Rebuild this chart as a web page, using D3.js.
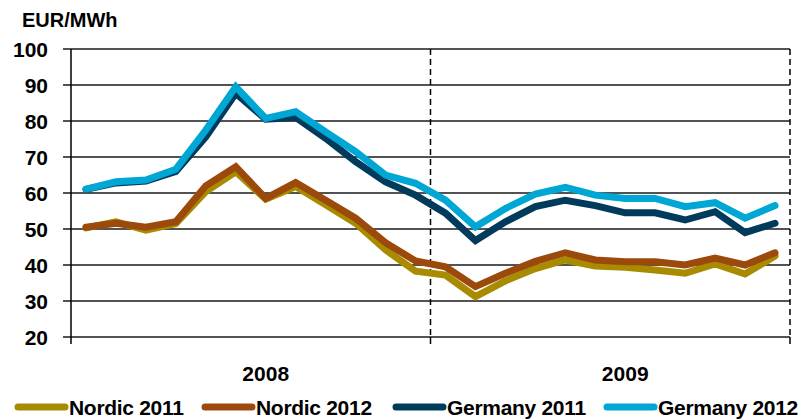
<!DOCTYPE html>
<html>
<head>
<meta charset="utf-8">
<script src="https://cdn.jsdelivr.net/npm/d3@7"></script>
<style>
  body { margin: 0; background: #fff; }
  text { font-family: "Liberation Sans", Arial, sans-serif; font-weight: bold; fill: #000; }
</style>
</head>
<body>
<div id="chart"></div>
<script>
// monthly values, Jan 2008 .. Dec 2009
var months = d3.range(24).map(function(i) { return (2008 + Math.floor(i / 12)) + "-" + (i % 12 + 1); });
var years = ["2008", "2009"];
var yTicks = [20, 30, 40, 50, 60, 70, 80, 90, 100];

var nordic2011  = [50.3, 52.0, 49.7, 51.5, 60.4, 65.9, 58.3, 61.8, 56.7, 51.6, 44.2, 38.3,
                   37.2, 31.2, 35.6, 39.0, 41.4, 39.7, 39.4, 38.6, 37.7, 40.3, 37.5, 42.5];
var nordic2012  = [50.5, 51.6, 50.5, 52.0, 62.0, 67.3, 58.5, 62.9, 58.0, 53.0, 46.2, 41.1,
                   39.5, 34.0, 37.7, 41.0, 43.4, 41.4, 40.9, 40.9, 40.0, 41.9, 40.0, 43.4];
var germany2011 = [61.0, 62.8, 63.3, 66.0, 75.6, 87.7, 80.5, 81.0, 75.2, 68.7, 63.1, 59.4,
                   54.4, 46.8, 52.0, 56.2, 58.0, 56.5, 54.5, 54.5, 52.5, 54.8, 49.0, 51.6];
var germany2012 = [61.1, 63.1, 63.6, 66.6, 77.5, 89.5, 80.7, 82.6, 77.0, 71.5, 65.0, 62.7,
                   58.0, 50.6, 55.7, 59.7, 61.6, 59.4, 58.5, 58.5, 56.2, 57.3, 53.0, 56.5];

var seriesNames = ["Nordic 2011", "Nordic 2012", "Germany 2011", "Germany 2012"];
var seriesData = [nordic2011, nordic2012, germany2011, germany2012];
var colors = ["#a88b00", "#9b4a0b", "#003b5c", "#00a6d4"];

var width = 810, height = 420;
var margin = {left: 71, right: 790, top: 49, bottom: 337};

var svg = d3.select("#chart")
    .append("svg")
      .attr("width", width)
      .attr("height", height);

var x = d3.scaleBand()
    .domain(months)
    .range([margin.left, margin.right])
    .padding(0);

var y = d3.scaleLinear()
    .domain([20, 100])
    .range([margin.bottom, margin.top]);

function cx(m) { return x(m) + x.bandwidth() / 2; }

// gridlines + y ticks
svg.append("g")
    .selectAll("line")
    .data(yTicks)
    .enter()
    .append("line")
      .attr("x1", margin.left - 8)
      .attr("x2", margin.right)
      .attr("y1", function(d) { return y(d); })
      .attr("y2", function(d) { return y(d); })
      .attr("stroke", "#1a1a1a")
      .attr("stroke-width", 1.5);

svg.append("g")
    .selectAll("text")
    .data(yTicks)
    .enter()
    .append("text")
      .attr("x", 48)
      .attr("y", function(d) { return y(d); })
      .attr("dy", "0.36em")
      .attr("text-anchor", "end")
      .style("font-size", "21px")
      .text(function(d) { return d; });

// y axis line
svg.append("line")
    .attr("x1", margin.left).attr("x2", margin.left)
    .attr("y1", margin.top).attr("y2", margin.bottom + 7)
    .attr("stroke", "#000")
    .attr("stroke-width", 1.5);

// year separators (dashed) and bottom ticks
var edges = [x(months[12]), margin.right];
svg.append("g")
    .selectAll("line")
    .data(edges)
    .enter()
    .append("line")
      .attr("x1", function(d) { return d; })
      .attr("x2", function(d) { return d; })
      .attr("y1", margin.top)
      .attr("y2", margin.bottom)
      .attr("stroke", "#000")
      .attr("stroke-width", 1.5)
      .attr("stroke-dasharray", "6,4");

svg.append("g")
    .selectAll("line")
    .data(edges)
    .enter()
    .append("line")
      .attr("x1", function(d) { return d; })
      .attr("x2", function(d) { return d; })
      .attr("y1", margin.bottom)
      .attr("y2", margin.bottom + 7)
      .attr("stroke", "#000")
      .attr("stroke-width", 1.5);

// year labels, centred on July
svg.append("g")
    .selectAll("text")
    .data(years)
    .enter()
    .append("text")
      .attr("x", function(d, i) { return cx(months[i * 12 + 6]); })
      .attr("y", 381)
      .attr("text-anchor", "middle")
      .style("font-size", "21px")
      .text(function(d) { return d; });

// unit label
svg.append("text")
    .attr("x", 22)
    .attr("y", 27)
    .style("font-size", "20px")
    .text("EUR/MWh");

// lines
var line = d3.line()
    .x(function(d, i) { return cx(months[i]); })
    .y(function(d) { return y(d); });

svg.append("g")
    .selectAll("path")
    .data(seriesData)
    .enter()
    .append("path")
      .attr("d", line)
      .attr("fill", "none")
      .attr("stroke", function(d, i) { return colors[i]; })
      .attr("stroke-width", 7)
      .attr("stroke-linejoin", "miter")
      .attr("stroke-linecap", "round");

// legend
var legendX = [18, 205, 396, 607];
var lg = svg.append("g")
    .selectAll("g")
    .data(seriesNames)
    .enter()
    .append("g")
      .attr("transform", function(d, i) { return "translate(" + legendX[i] + ",0)"; });

lg.append("line")
    .attr("x1", 0).attr("x2", 47)
    .attr("y1", 407).attr("y2", 407)
    .attr("stroke", function(d, i) { return colors[i]; })
    .attr("stroke-width", 7)
    .attr("stroke-linecap", "round");

lg.append("text")
    .attr("x", 51)
    .attr("y", 415)
    .style("font-size", "21px")
    .style("letter-spacing", "-0.3px")
    .text(function(d) { return d; });
</script>
</body>
</html>
